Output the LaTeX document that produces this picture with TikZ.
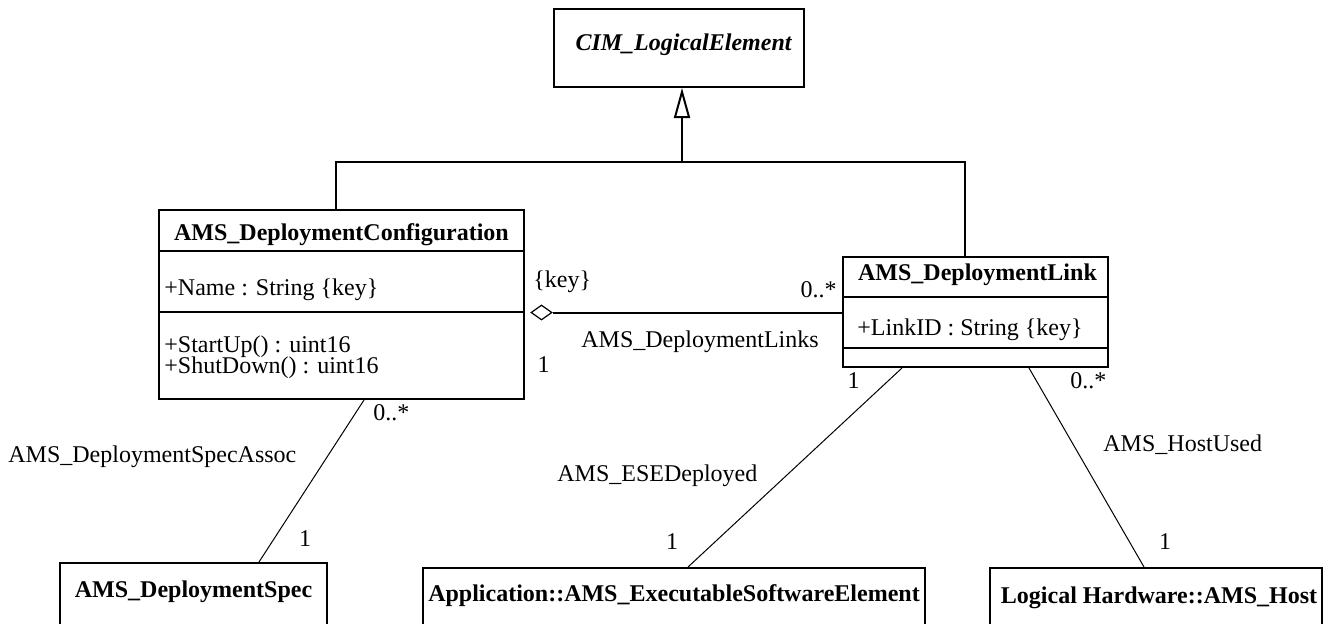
\documentclass[tikz,border=0pt]{standalone}
\usepackage{fontspec}
\setmainfont{Liberation Serif}
\usetikzlibrary{shapes.geometric, arrows.meta, calc}

\tikzset{
  classbox/.style={draw, line width=1pt, inner sep=0pt},
  heavy/.style={line width=1pt},
  assoc/.style={line width=0.5pt},
  txt/.style={inner sep=0pt, anchor=base},
  lefttxt/.style={inner sep=0pt, anchor=base west},
  righttxt/.style={inner sep=0pt, anchor=base east},
  classname/.style={txt, font=\fontsize{12pt}{14pt}\selectfont\bfseries},
  abstractname/.style={txt, font=\fontsize{12pt}{14pt}\selectfont\bfseries\itshape}
}

\begin{document}
\begin{tikzpicture}[x=0.5pt, y=-0.5pt, font=\fontsize{12pt}{14pt}\selectfont]
      \useasboundingbox (0,0) rectangle (1332,623);
      \clip (0,0) rectangle (1332,623);

      % classes
      \node[classbox, minimum width=125pt, minimum height=39pt] (cim) at (679,48) {};
      \node[abstractname] at (683.5,50) {CIM\_LogicalElement};

      \node[classbox, minimum width=182.5pt, minimum height=94.5pt] (config) at (341.5,304.5) {};
      \node[classname] at (341.5,240) {AMS\_DeploymentConfiguration};
      \draw[heavy] ($(config.north west)+(0,42)$) -- ($(config.north east)+(0,42)$);
      \draw[heavy] ($(config.north west)+(0,103)$) -- ($(config.north east)+(0,103)$);
      \node[lefttxt] at (164,295) {+Name : String \{key\}};
      \node[lefttxt] at (164,352) {+StartUp() : uint16};
      \node[lefttxt] at (164,373) {+ShutDown() : uint16};

      \node[classbox, minimum width=132.5pt, minimum height=55pt] (deplink) at (975.5,312) {};
      \node[classname] at (977.5,280) {AMS\_DeploymentLink};
      \draw[heavy] ($(deplink.north west)+(0,41)$) -- ($(deplink.north east)+(0,41)$);
      \draw[heavy] ($(deplink.north west)+(0,92)$) -- ($(deplink.north east)+(0,92)$);
      \node[lefttxt] at (857,335) {+LinkID : String \{key\}};

      \node[classbox, minimum width=133.5pt, minimum height=48.5pt] (spec) at (193.5,611.5) {};
      \node[classname] at (193.5,597) {AMS\_DeploymentSpec};

      \node[classbox, minimum width=251pt, minimum height=46pt] (ese) at (674,614) {};
      \node[classname] at (674,601) {Application::AMS\_ExecutableSoftwareElement};

      \node[classbox, minimum width=166pt, minimum height=46pt] (host) at (1156,614) {};
      \node[classname] at (1159,603) {Logical Hardware::AMS\_Host};

      % inheritance
      \coordinate (joint) at (682,162);
      \draw[heavy, -{Triangle[open, length=15pt, width=8pt]}] (joint) -- (joint |- cim.south);
      \draw[heavy] ([xshift=-2.75pt]config.north) |- (joint) -| ([xshift=-5.25pt]deplink.north);

      % aggregation
      \node[diamond, draw, line width=0.6pt, minimum width=10.5pt, minimum height=7.5pt, inner sep=0pt] (agg) at (541.5,312.5) {};
      \draw[heavy] (agg.east) -- (agg.east -| deplink.west);
      \node[lefttxt] at (533,287) {\{key\}};
      \node[righttxt] at (837,297) {0..*};
      \node[lefttxt] at (581,347) {AMS\_DeploymentLinks};
      \node[txt] at (543.5,372) {1};

      % associations
      \draw[assoc] ([xshift=103pt]config.south west) -- ([xshift=100pt]spec.north west);
      \node[lefttxt] at (373,420) {0..*};
      \node[lefttxt] at (8,462) {AMS\_DeploymentSpecAssoc};
      \node[txt] at (305,546) {1};

      \draw[assoc] ([xshift=30pt]deplink.south west) -- ([xshift=133pt]ese.north west);
      \node[txt] at (853.5,388) {1};
      \node[lefttxt] at (557,481) {AMS\_ESEDeployed};
      \node[txt] at (672,549) {1};

      \draw[assoc] ([xshift=93.5pt]deplink.south west) -- ([xshift=77.5pt]host.north west);
      \node[lefttxt] at (1070,388) {0..*};
      \node[lefttxt] at (1103,451) {AMS\_HostUsed};
      \node[txt] at (1165,549) {1};
\end{tikzpicture}
\end{document}
